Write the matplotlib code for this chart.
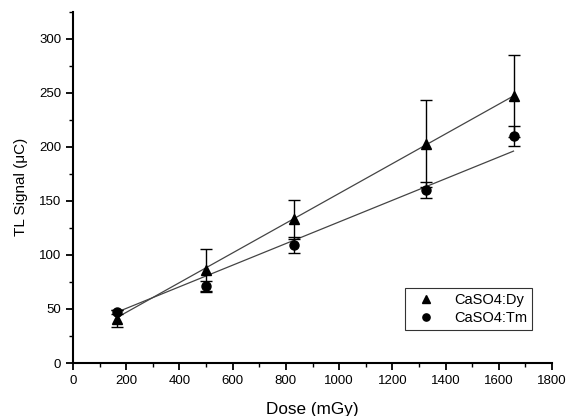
import matplotlib
matplotlib.use("Agg")
import matplotlib.pyplot as plt
import numpy as np
from matplotlib.ticker import MultipleLocator

plt.rcParams['font.family'] = ['Liberation Sans', 'DejaVu Sans']

dose = [165, 500, 830, 1325, 1655]
dy_signal = [41, 86, 133, 203, 247]
dy_err = [8, 19, 18, 40, 38]
tm_signal = [47, 71, 109, 160, 210]
tm_err = [2, 5, 7.5, 7, 9]
# fit lines (intercept, slope)
dy_fit = (19.3, 0.1376)
tm_fit = (30.5, 0.100)

fig = plt.figure(figsize=(5.68, 4.16), dpi=100)
ax = fig.add_axes([0.1285, 0.1274, 0.8435, 0.8446])

xs = np.array([dose[0], dose[-1]])
ax.plot(xs, dy_fit[0] + dy_fit[1] * xs, color='#444444', lw=0.9, zorder=2)
ax.plot(xs, tm_fit[0] + tm_fit[1] * xs, color='#444444', lw=0.9, zorder=2)

ax.errorbar(dose, dy_signal, yerr=dy_err, fmt='^', color='black', ms=7.5,
            capsize=4, elinewidth=1, capthick=1, label='CaSO4:Dy', zorder=3)
ax.errorbar(dose, tm_signal, yerr=tm_err, fmt='o', color='black', ms=6.5,
            capsize=4, elinewidth=1, capthick=1, label='CaSO4:Tm', zorder=3)

ax.set_xlim(0, 1800)
ax.set_ylim(0, 325)
ax.xaxis.set_major_locator(MultipleLocator(200))
ax.xaxis.set_minor_locator(MultipleLocator(100))
ax.yaxis.set_minor_locator(MultipleLocator(25))
ax.set_yticks([0, 50, 100, 150, 200, 250, 300])
ax.spines['top'].set_visible(False)
ax.spines['right'].set_visible(False)
ax.spines['left'].set_linewidth(1.5)
ax.spines['bottom'].set_linewidth(1.5)
ax.tick_params(which='major', direction='out', length=5, width=1.3, labelsize=9.5, colors='black')
ax.tick_params(which='minor', direction='out', length=3, width=1.0)

ax.set_xlabel('Dose (mGy)', fontsize=12.3, labelpad=11)
ax.set_ylabel('TL Signal (\u03bcC)', fontsize=11, labelpad=8)

handles, labels = ax.get_legend_handles_labels()
handles = [h[0] for h in handles]
leg = ax.legend(handles, labels, loc='lower left', bbox_to_anchor=(0.693, 0.094),
                borderaxespad=0, frameon=True, fancybox=False,
                prop={'size': 10.5}, markerscale=0.8,
                handletextpad=0.8, borderpad=0.35, labelspacing=0.25, handlelength=2.2)
leg.get_frame().set_edgecolor('black')
leg.get_frame().set_linewidth(0.8)

fig.savefig('out.png', dpi=100)
